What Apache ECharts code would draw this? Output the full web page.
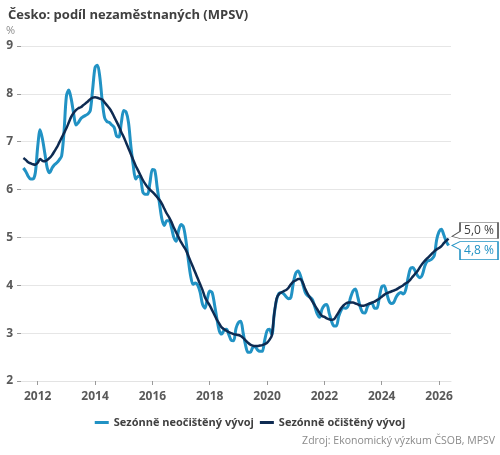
<!DOCTYPE html>
<html>
<head>
<meta charset="utf-8">
<script src="https://cdn.jsdelivr.net/npm/echarts@6/dist/echarts.min.js"></script>
<style>
html,body{margin:0;padding:0;background:#fff;}
#c{width:500px;height:455px;}
</style>
</head>
<body>
<div id="c"></div>
<script>
// ---- DATA ----
var startYear = 2011, startMonth = 6;   // first category: 2011-06 (axis padding), last: 2026-06
var monthCount = 181;
var yTicks = [2, 3, 4, 5, 6, 7, 8, 9];
var seriesNames = ['Sezónně neočištěný vývoj', 'Sezónně očištěný vývoj'];

// Sezónně neočištěný vývoj (monthly, 2011-06 .. 2026-06)
var unadjusted = [
  null,                                                            // 2011-06
  6.45, 6.38, 6.28, 6.22, 6.22, 6.35,                              // 2011-07..12
  6.90, 7.25, 7.05, 6.75, 6.45, 6.35, 6.45, 6.52, 6.56, 6.62, 6.70, 7.20, // 2012
  7.95, 8.08, 7.90, 7.60, 7.35, 7.40, 7.48, 7.52, 7.55, 7.58, 7.65, 8.10, // 2013
  8.55, 8.60, 8.35, 7.85, 7.50, 7.42, 7.40, 7.35, 7.30, 7.12, 7.10, 7.40, // 2014
  7.65, 7.62, 7.40, 6.90, 6.50, 6.22, 6.28, 6.25, 5.95, 5.90, 5.90, 6.15, // 2015
  6.42, 6.40, 6.05, 5.70, 5.38, 5.25, 5.35, 5.35, 5.20, 5.00, 4.92, 5.15, // 2016
  5.27, 5.22, 4.95, 4.55, 4.20, 4.02, 4.05, 4.00, 3.85, 3.60, 3.52, 3.72, // 2017
  3.88, 3.85, 3.60, 3.30, 3.05, 2.98, 3.06, 3.08, 2.97, 2.85, 2.84, 3.10, // 2018
  3.22, 3.25, 3.00, 2.75, 2.60, 2.60, 2.70, 2.72, 2.65, 2.62, 2.62, 2.85, // 2019
  3.05, 3.08, 2.97, 3.40, 3.70, 3.83, 3.85, 3.82, 3.76, 3.72, 3.75, 4.05, // 2020
  4.25, 4.30, 4.20, 4.02, 3.85, 3.78, 3.75, 3.70, 3.55, 3.40, 3.33, 3.50, // 2021
  3.58, 3.60, 3.42, 3.25, 3.15, 3.15, 3.35, 3.48, 3.53, 3.52, 3.58, 3.75, // 2022
  3.88, 3.92, 3.75, 3.55, 3.43, 3.42, 3.55, 3.62, 3.62, 3.52, 3.52, 3.75, // 2023
  3.97, 3.99, 3.85, 3.68, 3.62, 3.64, 3.75, 3.82, 3.85, 3.82, 3.90, 4.15, // 2024
  4.35, 4.37, 4.30, 4.20, 4.16, 4.22, 4.40, 4.50, 4.52, 4.55, 4.62, 4.95, // 2025
  5.12, 5.17, 5.05, 4.92, 4.83,                                    // 2026-01..05
  null                                                             // 2026-06
];

// Sezónně očištěný vývoj (monthly, 2011-06 .. 2026-06)
var adjusted = [
  null,                                                            // 2011-06
  6.66, 6.62, 6.57, 6.55, 6.53, 6.52,                              // 2011-07..12
  6.56, 6.64, 6.60, 6.59, 6.62, 6.66, 6.72, 6.80, 6.88, 6.98, 7.08, 7.18, // 2012
  7.28, 7.40, 7.52, 7.60, 7.66, 7.70, 7.72, 7.76, 7.80, 7.84, 7.89, 7.92, // 2013
  7.93, 7.92, 7.90, 7.88, 7.82, 7.76, 7.70, 7.62, 7.52, 7.42, 7.32, 7.20, // 2014
  7.10, 6.98, 6.86, 6.74, 6.62, 6.50, 6.40, 6.30, 6.20, 6.12, 6.05, 6.00, // 2015
  5.95, 5.90, 5.84, 5.78, 5.70, 5.60, 5.50, 5.42, 5.32, 5.20, 5.10, 5.00, // 2016
  4.90, 4.82, 4.74, 4.62, 4.50, 4.38, 4.26, 4.14, 4.02, 3.90, 3.75, 3.66, // 2017
  3.58, 3.48, 3.38, 3.28, 3.20, 3.12, 3.08, 3.05, 3.02, 3.00, 2.98, 2.97, // 2018
  2.96, 2.94, 2.90, 2.85, 2.80, 2.76, 2.74, 2.73, 2.73, 2.74, 2.75, 2.77, // 2019
  2.80, 2.86, 2.95, 3.40, 3.72, 3.82, 3.85, 3.88, 3.90, 3.95, 4.02, 4.08, // 2020
  4.10, 4.13, 4.13, 4.05, 3.92, 3.82, 3.74, 3.66, 3.58, 3.50, 3.42, 3.36, // 2021
  3.34, 3.31, 3.29, 3.28, 3.29, 3.36, 3.44, 3.52, 3.58, 3.62, 3.64, 3.64, // 2022
  3.64, 3.62, 3.60, 3.58, 3.57, 3.58, 3.60, 3.62, 3.64, 3.66, 3.69, 3.72, // 2023
  3.76, 3.80, 3.83, 3.85, 3.87, 3.89, 3.91, 3.94, 3.97, 4.00, 4.04, 4.07, // 2024
  4.12, 4.18, 4.24, 4.30, 4.38, 4.45, 4.51, 4.56, 4.61, 4.66, 4.71, 4.75, // 2025
  4.78, 4.82, 4.88, 4.93, 4.97,                                    // 2026-01..05
  null                                                             // 2026-06
];

// month categories "YYYY-MM"
var months = [];
for (var i = 0; i < monthCount; i++) {
  var mm = startMonth - 1 + i;
  var yy = startYear + Math.floor(mm / 12);
  var mo = (mm % 12) + 1;
  months.push(yy + '-' + (mo < 10 ? '0' + mo : mo));
}
var lastIdx = monthCount - 2;

// ---- STYLE ----
var LIGHT = '#2192c4';
var DARK = '#0e2b52';
var FONT = 'Open Sans';

function isTick(idx, val) {
  var p = val.split('-');
  return p[1] === '01' && (+p[0]) % 2 === 0;
}
function fmt(v) { return v.toFixed(1).replace('.', ',') + ' %'; }

var chart = echarts.init(document.getElementById('c'), null, {renderer: 'canvas'});
chart.setOption({
  backgroundColor: '#ffffff',
  animation: false,
  textStyle: {fontFamily: FONT},
  title: {
    text: 'Česko: podíl nezaměstnaných (MPSV)',
    left: 3, top: 4,
    textStyle: {fontFamily: FONT, fontSize: 13, fontWeight: 'bold', color: '#404040'}
  },
  graphic: [
    {type: 'text', left: 6, top: 25, style: {text: '%', font: '11px "Open Sans"', fill: '#8c8c8c'}},
    {type: 'text', right: 5, top: 436, style: {text: 'Zdroj: Ekonomický výzkum ČSOB, MPSV', font: '10.5px "Open Sans"', fill: '#8a8a8a'}}
  ],
  legend: {
    top: 412, left: 'center',
    icon: 'rect', itemWidth: 14, itemHeight: 3, itemGap: 6,
    textStyle: {fontFamily: FONT, fontSize: 11, fontWeight: 'bold', color: '#404040'},
    data: seriesNames
  },
  grid: {left: 21, right: 49, top: 46, bottom: 74, containLabel: false},
  xAxis: {
    type: 'category',
    data: months,
    boundaryGap: false,
    axisLine: {show: true, lineStyle: {color: '#e3e3e3'}},
    axisTick: {show: true, interval: isTick, length: 4, lineStyle: {color: '#9a9a9a'}},
    axisLabel: {
      interval: isTick, margin: 10,
      formatter: function (v) { return v.split('-')[0]; },
      fontFamily: FONT, fontSize: 12, fontWeight: 'bold', color: '#595959'
    },
    splitLine: {show: false}
  },
  yAxis: {
    type: 'value',
    min: yTicks[0], max: yTicks[yTicks.length - 1], interval: 1,
    axisLine: {show: false},
    axisTick: {show: true, length: 4, lineStyle: {color: '#9a9a9a'}},
    axisLabel: {margin: 8, fontFamily: FONT, fontSize: 12, fontWeight: 'bold', color: '#595959'},
    splitLine: {lineStyle: {color: '#e6e6e6', width: 1}}
  },
  series: [
    {
      name: seriesNames[0],
      type: 'line',
      data: unadjusted,
      smooth: 0.3,
      showSymbol: false,
      lineStyle: {color: LIGHT, width: 3},
      itemStyle: {color: LIGHT},
      z: 2,
      markPoint: {
        silent: true,
        symbol: 'path://M0,4 L8,0 L46,0 L46,18 L8,18 L8,8 Z',
        symbolSize: [46, 18],
        symbolOffset: [26.4, 5],
        itemStyle: {color: '#ffffff', borderColor: LIGHT, borderWidth: 1},
        label: {
          show: true, position: 'inside', offset: [4, 0],
          fontFamily: FONT, fontSize: 12, color: LIGHT,
          formatter: function (p) { return fmt(p.value); }
        },
        data: [{coord: [months[lastIdx], unadjusted[lastIdx]], value: unadjusted[lastIdx]}]
      }
    },
    {
      name: seriesNames[1],
      type: 'line',
      data: adjusted,
      smooth: 0.3,
      showSymbol: false,
      lineStyle: {color: DARK, width: 2.5},
      itemStyle: {color: DARK},
      z: 3,
      markPoint: {
        silent: true,
        symbol: 'path://M8,0 L46,0 L46,16 L8,16 L0,14 L8,9 Z',
        symbolSize: [46, 16],
        symbolOffset: [26.4, -8.4],
        itemStyle: {color: '#ffffff', borderColor: '#555555', borderWidth: 1},
        label: {
          show: true, position: 'inside', offset: [4, 0],
          fontFamily: FONT, fontSize: 12, color: '#404040',
          formatter: function (p) { return fmt(p.value); }
        },
        data: [{coord: [months[lastIdx], adjusted[lastIdx]], value: adjusted[lastIdx]}]
      }
    }
  ]
});
</script>
</body>
</html>
